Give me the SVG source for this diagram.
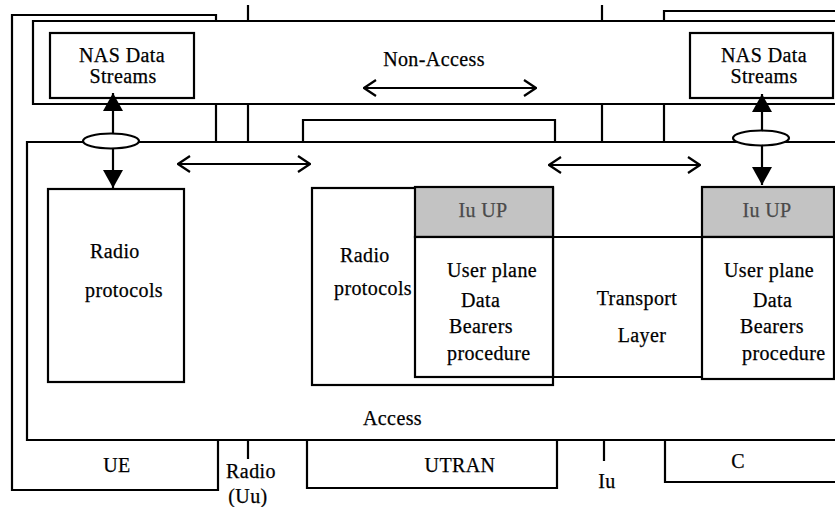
<svg xmlns="http://www.w3.org/2000/svg" width="835" height="507" viewBox="0 0 835 507">
<style>
  .ln{fill:none;stroke:#000;stroke-width:2.2}
  .box{fill:#fff;stroke:#000;stroke-width:2.2}
  .gray{fill:#c3c3c3;stroke:#000;stroke-width:2.2}
  text{font-family:"Liberation Serif","Times New Roman",serif;font-size:20px;letter-spacing:0.4px;fill:#000;stroke:#000;stroke-width:0.25}
  .mid{text-anchor:middle}
  .gt{fill:#4a4a4a;stroke:#4a4a4a}
</style>
<defs>
  <marker id="tri" viewBox="0 0 18 20" refX="18" refY="10" markerWidth="18" markerHeight="20" markerUnits="userSpaceOnUse" orient="auto">
    <path d="M0,0 L18,10 L0,20 z" fill="#000"/>
  </marker>
  <marker id="vee" viewBox="0 0 14 18" refX="13" refY="9" markerWidth="14" markerHeight="18" markerUnits="userSpaceOnUse" orient="auto-start-reverse">
    <path d="M1,1 L13,9 L1,17" fill="none" stroke="#000" stroke-width="2.2"/>
  </marker>
</defs>

<g id="frame">
  <path class="ln" d="M216,21 V15 H12 V490 H218 V440"/>
  <path class="ln" d="M216,104 V142"/>
  <path class="ln" d="M248,5 V21 M248,104 V142 M248,440 V459"/>
  <path class="ln" d="M602,5 V21 M602,104 V142 M604,440 V461"/>
  <path class="ln" d="M303,142 V120 H555 V142"/>
  <path class="ln" d="M307,440 V488 H557 V440"/>
  <path class="ln" d="M664,21 V11 H835"/>
  <path class="ln" d="M664,104 V142"/>
  <path class="ln" d="M665,440 V482 H835"/>
</g>

<g id="non-access">
  <path class="ln" d="M835,21 H33 V104 H835"/>
  <text class="mid" x="434" y="66">Non-Access</text>
</g>

<g id="access">
  <path class="ln" d="M835,142 H27 V440 H835"/>
  <text x="363" y="425">Access</text>
</g>

<g id="nas-ue">
  <rect class="box" x="50" y="33" width="144" height="65"/>
  <text class="mid" x="122" y="62">NAS Data</text>
  <text class="mid" x="123" y="83">Streams</text>
</g>

<g id="nas-cn">
  <rect class="box" x="690" y="33" width="143" height="65"/>
  <text class="mid" x="764" y="62">NAS Data</text>
  <text class="mid" x="764" y="83">Streams</text>
</g>

<g id="radio-ue">
  <rect class="box" x="48" y="189" width="136" height="193"/>
  <text x="90" y="258">Radio</text>
  <text x="85" y="297">protocols</text>
</g>

<g id="radio-utran">
  <rect class="box" x="312" y="188" width="241" height="197"/>
  <text x="340" y="262">Radio</text>
  <text x="334" y="295">protocols</text>
</g>

<g id="transport">
  <path class="ln" d="M553,237 H702 M553,377 H702"/>
  <text class="mid" x="637" y="305">Transport</text>
  <text class="mid" x="642" y="342">Layer</text>
</g>

<g id="iu-up-utran">
  <rect class="gray" x="415" y="187" width="138" height="50"/>
  <text class="mid gt" x="483" y="217">Iu UP</text>
</g>

<g id="up-utran">
  <rect class="box" x="415" y="237" width="138" height="140"/>
  <text x="447" y="277">User plane</text>
  <text x="461" y="307">Data</text>
  <text x="449" y="333">Bearers</text>
  <text x="447" y="360">procedure</text>
</g>

<g id="iu-up-cn">
  <rect class="gray" x="702" y="187" width="132" height="50"/>
  <text class="mid gt" x="767" y="217">Iu UP</text>
</g>

<g id="up-cn">
  <rect class="box" x="702" y="237" width="132" height="142"/>
  <text x="724" y="277">User plane</text>
  <text x="753" y="307">Data</text>
  <text x="740" y="333">Bearers</text>
  <text x="742" y="360">procedure</text>
</g>

<g id="labels">
  <text class="mid" x="117" y="472">UE</text>
  <text class="mid" x="460" y="472">UTRAN</text>
  <text class="mid" x="738" y="468">C</text>
  <text class="mid" x="251" y="478">Radio</text>
  <text class="mid" x="248" y="503">(Uu)</text>
  <text class="mid" x="607" y="488">Iu</text>
</g>

<g id="connectors">
  <line class="ln" x1="364" y1="88" x2="536" y2="88" marker-start="url(#vee)" marker-end="url(#vee)"/>
  <line class="ln" x1="178" y1="164" x2="310" y2="164" marker-start="url(#vee)" marker-end="url(#vee)"/>
  <line class="ln" x1="549" y1="165" x2="700" y2="165" marker-start="url(#vee)" marker-end="url(#vee)"/>
  <line class="ln" x1="113" y1="133" x2="113" y2="93" marker-end="url(#tri)"/>
  <line class="ln" x1="113" y1="148" x2="113" y2="188" marker-end="url(#tri)"/>
  <line class="ln" x1="762" y1="131" x2="762" y2="94" marker-end="url(#tri)"/>
  <line class="ln" x1="762" y1="146" x2="762" y2="185" marker-end="url(#tri)"/>
  <ellipse class="box" cx="111" cy="141" rx="28" ry="7.5"/>
  <ellipse class="box" cx="761" cy="138" rx="28" ry="7.5"/>
</g>
</svg>
